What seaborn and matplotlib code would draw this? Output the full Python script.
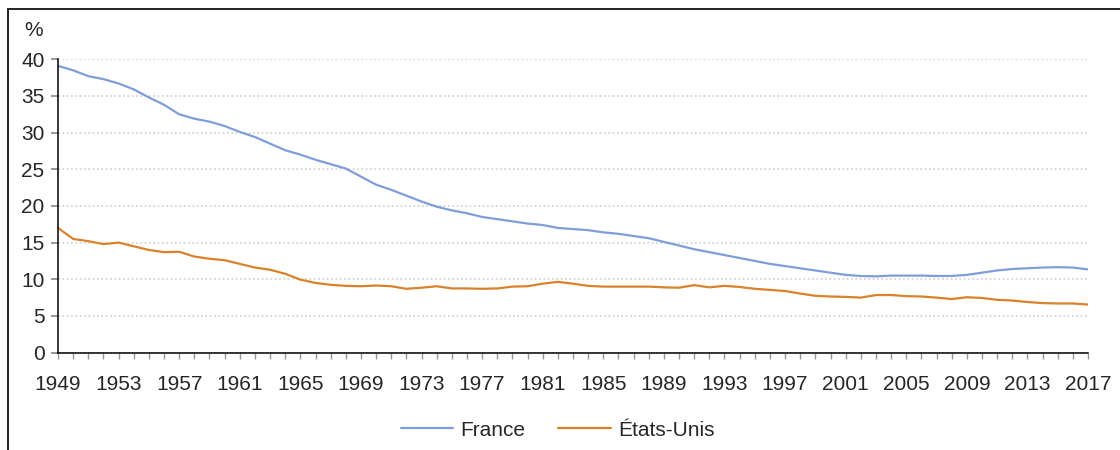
import numpy as np
import pandas as pd
import matplotlib.pyplot as plt
import seaborn as sns
from matplotlib.patches import Rectangle
from matplotlib.ticker import MultipleLocator

# --------------------------
# Data
# --------------------------
years = list(range(1949, 2018))

france = [39.1, 38.5, 37.7, 37.3, 36.7, 35.9, 34.8, 33.8, 32.5, 31.9,
          31.5, 30.9, 30.1, 29.4, 28.5, 27.6, 27.0, 26.3, 25.7, 25.1,
          24.0, 22.9, 22.2, 21.4, 20.6, 19.9, 19.4, 19.0, 18.5, 18.2,
          17.9, 17.6, 17.4, 17.0, 16.85, 16.7, 16.4, 16.2, 15.9, 15.6,
          15.1, 14.6, 14.1, 13.7, 13.3, 12.9, 12.5, 12.1, 11.8, 11.5,
          11.2, 10.9, 10.6, 10.45, 10.4, 10.5, 10.5, 10.5, 10.45, 10.45,
          10.6, 10.9, 11.2, 11.4, 11.5, 11.6, 11.65, 11.6, 11.35]

etats_unis = [17.0, 15.5, 15.2, 14.8, 15.0, 14.5, 14.0, 13.7, 13.75, 13.1,
              12.8, 12.6, 12.1, 11.6, 11.3, 10.75, 9.95, 9.5, 9.25, 9.1,
              9.05, 9.15, 9.05, 8.7, 8.85, 9.05, 8.75, 8.75, 8.7, 8.75,
              9.0, 9.05, 9.4, 9.65, 9.4, 9.1, 9.0, 9.0, 9.0, 9.0,
              8.9, 8.85, 9.2, 8.9, 9.1, 8.95, 8.7, 8.55, 8.4, 8.05,
              7.75, 7.65, 7.6, 7.5, 7.85, 7.85, 7.7, 7.65, 7.5, 7.3,
              7.55, 7.45, 7.2, 7.1, 6.9, 6.75, 6.7, 6.7, 6.55]

series_names = ["France", "États-Unis"]
colors = ["#7f9ed9", "#d9822b"]
y_ticks = [0, 5, 10, 15, 20, 25, 30, 35, 40]
x_label_years = list(range(1949, 2018, 4))

df = pd.DataFrame({
    "year": years * 2,
    "value": france + etats_unis,
    "pays": ["France"] * len(years) + ["États-Unis"] * len(years),
})

# --------------------------
# Style
# --------------------------
sns.set_style("white")
plt.rcParams["font.family"] = ["Liberation Sans", "DejaVu Sans"]

fig = plt.figure(figsize=(11.2, 4.5), dpi=100)
ax = fig.add_axes([58 / 1120, 1 - 352.6 / 450, 1030 / 1120, 293.3 / 450])

sns.lineplot(data=df, x="year", y="value", hue="pays", hue_order=series_names,
             palette=colors, linewidth=1.6, ax=ax)

ax.set_xlim(1949, 2017)
ax.set_ylim(0, 40)
ax.set_yticks(y_ticks)
ax.set_xticks(x_label_years)
ax.xaxis.set_minor_locator(MultipleLocator(1))
ax.set_xlabel("")
ax.set_ylabel("")

ax.grid(axis="y", color="#d5d5d5", linestyle=(0, (1, 1.4)), linewidth=1.3)
ax.set_axisbelow(True)

for side in ["top", "right"]:
    ax.spines[side].set_visible(False)
for side in ["left", "bottom"]:
    ax.spines[side].set_color("black")
    ax.spines[side].set_linewidth(1.1)

ax.tick_params(axis="y", which="major", left=True, length=4.7, width=1.2,
               color="#888888", pad=5, labelsize=15)
ax.tick_params(axis="x", which="both", bottom=True, length=4.3, width=1.0,
               color="#999999", pad=12, labelsize=15)

fig.text(43.3 / 1120, 1 - 30 / 450, "%", ha="right", va="center", fontsize=15)

# legend under the plot
sns.move_legend(ax, "center", bbox_to_anchor=(0.485, -0.264), ncol=2,
                frameon=False, title=None, fontsize=15,
                handlelength=2.5, handletextpad=0.35, columnspacing=1.6)

# partial frame (left and top edges visible)
fig.patches.append(Rectangle((8 / 1120, -0.5), 2.0, 0.5 + 1 - 9 / 450,
                             transform=fig.transFigure, fill=False,
                             edgecolor="#111111", linewidth=1.3, clip_on=False))

fig.savefig("out.png", dpi=100)
